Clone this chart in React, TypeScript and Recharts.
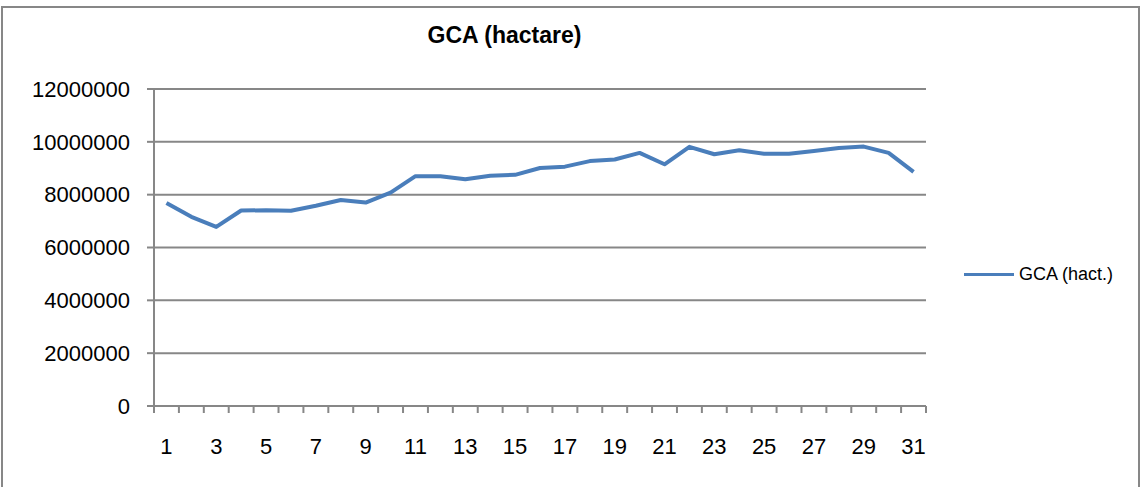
import React from 'react';
import { LineChart, Line, XAxis, YAxis, CartesianGrid } from 'recharts';

const categories = [1, 2, 3, 4, 5, 6, 7, 8, 9, 10, 11, 12, 13, 14, 15, 16, 17, 18, 19, 20, 21, 22, 23, 24, 25, 26, 27, 28, 29, 30, 31];
const gcaValues = [
  7680000, 7160000, 6780000, 7400000, 7410000, 7390000, 7580000, 7800000, 7700000, 8080000,
  8700000, 8700000, 8580000, 8720000, 8750000, 9010000, 9060000, 9270000, 9330000, 9580000,
  9150000, 9810000, 9530000, 9680000, 9550000, 9550000, 9650000, 9770000, 9820000, 9580000,
  8860000,
];
const yTicks = [0, 2000000, 4000000, 6000000, 8000000, 10000000, 12000000];
const xLabelTicks = [1, 3, 5, 7, 9, 11, 13, 15, 17, 19, 21, 23, 25, 27, 29, 31];
const xBoundaryTicks = [0.5, 1.5, 2.5, 3.5, 4.5, 5.5, 6.5, 7.5, 8.5, 9.5, 10.5, 11.5, 12.5, 13.5, 14.5, 15.5, 16.5, 17.5, 18.5, 19.5, 20.5, 21.5, 22.5, 23.5, 24.5, 25.5, 26.5, 27.5, 28.5, 29.5, 30.5, 31.5];
const seriesName = 'GCA (hact.)';
const title = 'GCA (hactare)';

const data = categories.map((c, i) => ({ day: c, gca: gcaValues[i] }));

const FONT = '"Liberation Sans", Arial, sans-serif';
const GRAY = '#878787';
const BLUE = '#4A7EBB';

const XTick = (props: any) => {
  const { x, y, payload, width } = props;
  const center = payload.value + 0.5;
  if (!xLabelTicks.includes(center)) return <g />;
  const half = (typeof width === 'number' && width > 0 ? width : 772) / categories.length / 2;
  return (
    <text x={x + half} y={y} dy="0.71em" textAnchor="middle" fontSize={22} fill="#000" fontFamily={FONT}>
      {center}
    </text>
  );
};

export default function App() {
  return (
    <div style={{ position: 'absolute', left: 0, top: 0, width: 1142, height: 487, overflow: 'hidden', background: '#fff', fontFamily: FONT }}>
      <div style={{ position: 'absolute', left: 1, top: 6, width: 1139, height: 520, border: `2px solid ${GRAY}`, boxSizing: 'border-box' }} />
      <div style={{ position: 'absolute', left: 0, top: 24, width: 1009, textAlign: 'center', fontWeight: 'bold', fontSize: 23, lineHeight: '23px', color: '#000' }}>
        {title}
      </div>
      <div style={{ position: 'absolute', left: 964, top: 262, height: 24, display: 'flex', alignItems: 'center' }}>
        <div style={{ width: 50, height: 3, background: BLUE }} />
        <div style={{ marginLeft: 5, fontSize: 18, color: '#000', lineHeight: '24px' }}>{seriesName}</div>
      </div>
      <div style={{ position: 'absolute', left: 0, top: 0 }}>
        <LineChart width={1142} height={487} data={data} margin={{ top: 89, right: 216, bottom: 0, left: 0 }}>
          <CartesianGrid horizontal vertical={false} stroke={GRAY} strokeWidth={2} />
          <XAxis
            dataKey="day"
            type="number"
            domain={[0.5, 31.5]}
            ticks={xBoundaryTicks}
            interval={0}
            height={81}
            tickSize={7}
            tickMargin={25}
            axisLine={{ stroke: GRAY, strokeWidth: 2 }}
            tickLine={{ stroke: GRAY, strokeWidth: 2 }}
            tick={<XTick />}
            allowDataOverflow
          />
          <YAxis
            type="number"
            domain={[0, 12000000]}
            ticks={yTicks}
            interval={0}
            width={154}
            tickSize={7}
            tickMargin={17}
            axisLine={{ stroke: GRAY, strokeWidth: 2 }}
            tickLine={{ stroke: GRAY, strokeWidth: 2 }}
            tick={{ fontSize: 22, fill: '#000', fontFamily: FONT }}
          />
          <Line
            dataKey="gca"
            name={seriesName}
            stroke={BLUE}
            strokeWidth={4}
            dot={false}
            activeDot={false}
            strokeLinejoin="round"
            isAnimationActive={false}
          />
        </LineChart>
      </div>
    </div>
  );
}
